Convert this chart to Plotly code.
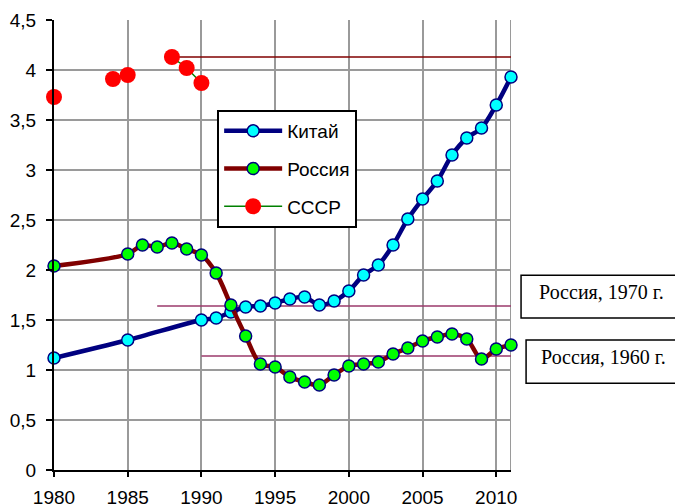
import plotly.graph_objects as go

# ---- data ----
china_years = [1980, 1985, 1990, 1991, 1992, 1993, 1994, 1995, 1996, 1997, 1998, 1999,
               2000, 2001, 2002, 2003, 2004, 2005, 2006, 2007, 2008, 2009, 2010, 2011]
china_values = [1.12, 1.30, 1.50, 1.52, 1.58, 1.63, 1.64, 1.67, 1.71, 1.73, 1.65, 1.69,
                1.79, 1.95, 2.05, 2.25, 2.51, 2.71, 2.89, 3.15, 3.32, 3.42, 3.65, 3.93]

russia_years = [1980, 1985, 1986, 1987, 1988, 1989, 1990, 1991, 1992, 1993, 1994, 1995,
                1996, 1997, 1998, 1999, 2000, 2001, 2002, 2003, 2004, 2005, 2006, 2007,
                2008, 2009, 2010, 2011]
russia_values = [2.04, 2.16, 2.25, 2.23, 2.27, 2.21, 2.15, 1.97, 1.65, 1.34, 1.06, 1.03,
                 0.93, 0.88, 0.85, 0.95, 1.04, 1.06, 1.08, 1.16, 1.22, 1.29, 1.33, 1.36,
                 1.31, 1.11, 1.21, 1.25]

ussr_years = [1980, 1981, 1982, 1983, 1984, 1985, 1986, 1987, 1988, 1989, 1990]
ussr_values = [3.73, None, None, None, 3.91, 3.95, None, None, 4.13, 4.02, 3.87]

# reference levels: (start year, end year, level)
ref_ussr_x = [1988, 2011]
ref_ussr_y = [4.13, 4.13]
ref_1970_x = [1987, 2011]
ref_1970_y = [1.64, 1.64]
ref_1960_x = [1990, 2011]
ref_1960_y = [1.14, 1.14]

series_names = ["Китай", "Россия", "СССР"]
label_1970 = "Россия, 1970 г."
label_1960 = "Россия, 1960 г."

x_ticks = [1980, 1985, 1990, 1995, 2000, 2005, 2010]

FONT = "Liberation Sans, Arial, sans-serif"
SERIF = "Liberation Serif, Times New Roman, serif"

fig = go.Figure()

# reference lines (under the series)
fig.add_trace(go.Scatter(x=ref_1970_x, y=ref_1970_y, mode="lines",
                         line=dict(color="#9b3a6b", width=1.5),
                         showlegend=False, hoverinfo="skip"))
fig.add_trace(go.Scatter(x=ref_1960_x, y=ref_1960_y, mode="lines",
                         line=dict(color="#9b3a6b", width=1.5),
                         showlegend=False, hoverinfo="skip"))
fig.add_trace(go.Scatter(x=ref_ussr_x, y=ref_ussr_y, mode="lines",
                         line=dict(color="#800000", width=1.5),
                         showlegend=False, hoverinfo="skip"))

fig.add_trace(go.Scatter(
    x=china_years, y=china_values, name=series_names[0], legendgroup="a",
    mode="lines+markers", cliponaxis=False,
    line=dict(color="#000080", width=4.5, shape="spline", smoothing=0.9),
    marker=dict(size=12, color="#00ffff", line=dict(color="#000080", width=1.5)),
))
fig.add_trace(go.Scatter(
    x=russia_years, y=russia_values, name=series_names[1], legendgroup="b",
    mode="lines+markers", cliponaxis=False,
    line=dict(color="#800000", width=4.5, shape="spline", smoothing=0.9),
    marker=dict(size=12, color="#00ff00", line=dict(color="#000080", width=1.5)),
))
fig.add_trace(go.Scatter(
    x=ussr_years, y=ussr_values, name=series_names[2], legendgroup="c",
    mode="lines+markers", cliponaxis=False, connectgaps=False,
    line=dict(color="#008000", width=1.5),
    marker=dict(size=16, color="#ff0000", line=dict(width=0)),
))

# right border of plot area (gray)
fig.add_shape(type="line", xref="x", yref="paper", x0=2011, x1=2011, y0=0, y1=1,
              line=dict(color="#9a9a9a", width=2), layer="below")

# label boxes on the right
fig.add_shape(type="rect", xref="paper", yref="paper", x0=1.022, x1=1.40, y0=0.338, y1=0.433,
              line=dict(color="black", width=1.5), fillcolor="white")
fig.add_shape(type="rect", xref="paper", yref="paper", x0=1.033, x1=1.40, y0=0.193, y1=0.289,
              line=dict(color="black", width=1.5), fillcolor="white")
fig.add_annotation(xref="paper", yref="paper", x=1.057, y=0.396, text=label_1970,
                   xanchor="left", yanchor="middle",
                   showarrow=False, font=dict(family=SERIF, size=20, color="black"))
fig.add_annotation(xref="paper", yref="paper", x=1.061, y=0.252, text=label_1960,
                   xanchor="left", yanchor="middle",
                   showarrow=False, font=dict(family=SERIF, size=20, color="black"))

fig.update_layout(
    width=675, height=496,
    margin=dict(l=46, r=172, t=12, b=34, autoexpand=False),
    paper_bgcolor="white", plot_bgcolor="white",
    separators=", ",
    font=dict(family=FONT, size=18, color="black"),
    legend=dict(x=0.357, y=0.8, xanchor="left", yanchor="top",
                bgcolor="white", bordercolor="black", borderwidth=2,
                font=dict(family=FONT, size=19, color="black"),
                tracegroupgap=10, itemwidth=58),
    xaxis=dict(range=[1980, 2011], tickvals=x_ticks, showgrid=True, automargin=False,
               gridcolor="#9a9a9a", gridwidth=1.5, zeroline=False,
               showline=True, linecolor="black", linewidth=2,
               ticks="outside", ticklen=5, tickwidth=1.5, tickcolor="black",
               ticklabelstandoff=4, tickfont=dict(size=19)),
    yaxis=dict(range=[0, 4.5], dtick=0.5, showgrid=True, automargin=False,
               gridcolor="#9a9a9a", gridwidth=1.5, zeroline=False,
               showline=True, linecolor="black", linewidth=2,
               ticks="outside", ticklen=6, tickwidth=1.5, tickcolor="black",
               ticklabelstandoff=6, tickfont=dict(size=19)),
)

fig.write_html("out.html")
